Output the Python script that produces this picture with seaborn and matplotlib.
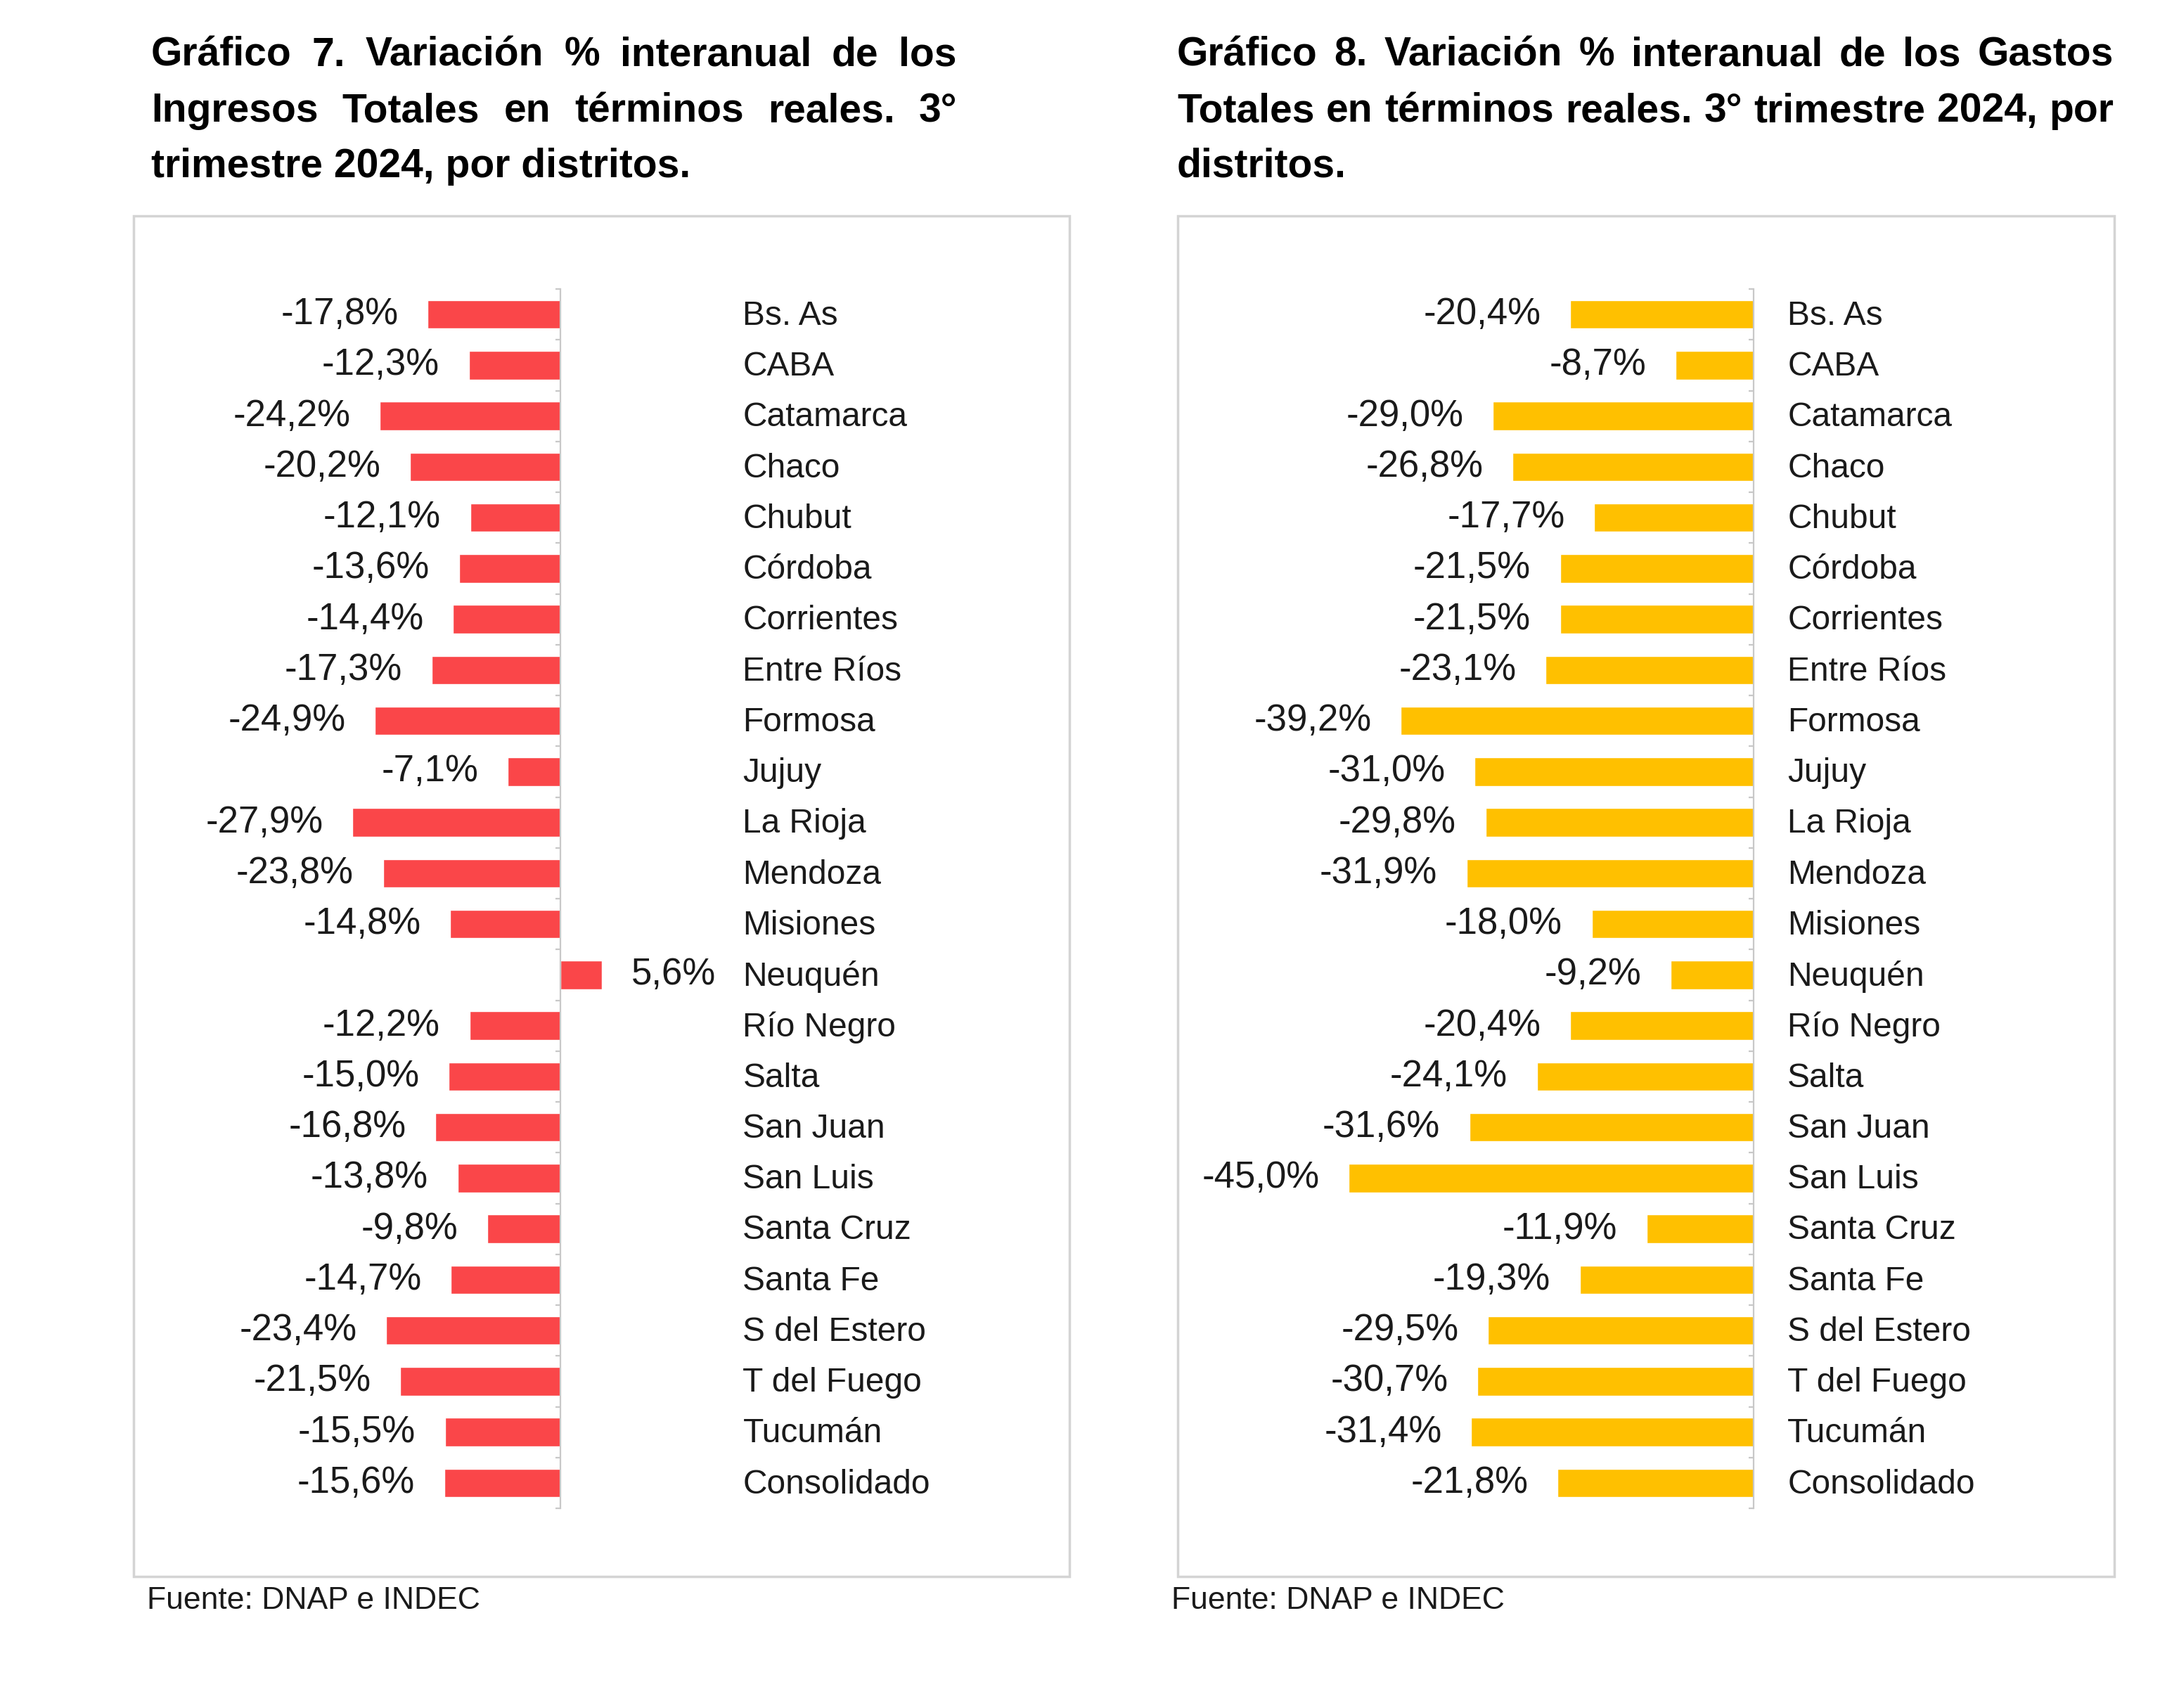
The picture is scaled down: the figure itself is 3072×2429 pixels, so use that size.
import numpy as np
import pandas as pd
import matplotlib
matplotlib.use("Agg")
import matplotlib.pyplot as plt
import matplotlib.transforms as mtransforms
from matplotlib.patches import Rectangle
import seaborn as sns

distritos = ["Bs. As", "CABA", "Catamarca", "Chaco", "Chubut", "Córdoba", "Corrientes",
             "Entre Ríos", "Formosa", "Jujuy", "La Rioja", "Mendoza", "Misiones", "Neuquén",
             "Río Negro", "Salta", "San Juan", "San Luis", "Santa Cruz", "Santa Fe",
             "S del Estero", "T del Fuego", "Tucumán", "Consolidado"]
ingresos = [-17.8, -12.3, -24.2, -20.2, -12.1, -13.6, -14.4, -17.3, -24.9, -7.1, -27.9, -23.8,
            -14.8, 5.6, -12.2, -15.0, -16.8, -13.8, -9.8, -14.7, -23.4, -21.5, -15.5, -15.6]
gastos = [-20.4, -8.7, -29.0, -26.8, -17.7, -21.5, -21.5, -23.1, -39.2, -31.0, -29.8, -31.9,
          -18.0, -9.2, -20.4, -24.1, -31.6, -45.0, -11.9, -19.3, -29.5, -30.7, -31.4, -21.8]

titulo_7 = ["Gráfico 7. Variación % interanual de los",
            "Ingresos Totales en términos reales. 3°",
            "trimestre 2024, por distritos."]
titulo_8 = ["Gráfico 8. Variación % interanual de los Gastos",
            "Totales en términos reales. 3° trimestre 2024, por",
            "distritos."]
fuente = "Fuente: DNAP e INDEC"

sns.set_theme(style="white")
plt.rcParams["font.family"] = ["Liberation Sans", "DejaVu Sans"]

W, H = 3072, 2429
fig = plt.figure(figsize=(W / 100, H / 100), dpi=100)
fig.patch.set_facecolor("white")

TXT = "#1a1a1a"
AXC = "#c8c8c8"
BOX_TOP, BOX_BOT = 307, 2242


def fx(px):
    return px / W


def fy(py):
    return 1 - py / H


def justified(lines, x0, x1, baselines, **kw):
    """ draws title lines, justified between x0 and x1 except the last one """
    renderer = fig.canvas.get_renderer()
    for i, (line, yb) in enumerate(zip(lines, baselines)):
        if i == len(lines) - 1:
            fig.text(fx(x0), fy(yb), line, va="baseline", ha="left", **kw)
            continue
        words = line.split()
        texts = [fig.text(0, fy(yb), w, va="baseline", ha="left", **kw) for w in words]
        widths = [t.get_window_extent(renderer).width for t in texts]
        gap = (x1 - x0 - sum(widths)) / (len(words) - 1)
        x = x0
        for t, w in zip(texts, widths):
            t.set_x(fx(x))
            x += w + gap


def panel(values, color, box_x0, box_x1, zero_px, px_per_unit):
    """ one bar chart with its frame """
    ax_top, ax_bot = 411, 2145
    ax = fig.add_axes([fx(box_x0), fy(ax_bot), fx(box_x1 - box_x0), (ax_bot - ax_top) / H])
    ax.patch.set_alpha(0)
    df = pd.DataFrame({"distrito": distritos, "valor": values})
    sns.barplot(data=df, x="valor", y="distrito", orient="h", color=color,
                saturation=1, width=0.56, ax=ax, errorbar=None)
    ax.set_xlim(-(zero_px - box_x0) / px_per_unit, (box_x1 - zero_px) / px_per_unit)
    ax.set_ylim(len(distritos) - 0.5, -0.5)
    ax.set_xlabel("")
    ax.set_ylabel("")
    ax.set_xticks([])
    for s in ["top", "right", "bottom"]:
        ax.spines[s].set_visible(False)
    ax.spines["left"].set_position(("data", 0))
    ax.spines["left"].set_color(AXC)
    ax.spines["left"].set_linewidth(1.6)
    ax.set_yticks(range(len(distritos)))
    ax.set_yticklabels([])
    ax.tick_params(axis="y", which="major", length=0)
    ax.set_yticks(np.arange(-0.5, len(distritos), 1), minor=True)
    ax.tick_params(axis="y", which="minor", left=True, length=5, width=1.6,
                   color=AXC, direction="out")

    labels = [f"{v:.1f}".replace(".", ",") + "%" for v in values]
    ax.bar_label(ax.containers[0], labels=labels, padding=30, fontsize=38, color=TXT)

    trans = mtransforms.blended_transform_factory(ax.transAxes, ax.transData)
    for i, d in enumerate(distritos):
        ax.text(0.651, i + 0.03, d, transform=trans, ha="left", va="center",
                fontsize=34.5, color=TXT)

    fig.patches.append(Rectangle((fx(box_x0), fy(BOX_BOT)), fx(box_x1 - box_x0),
                                 (BOX_BOT - BOX_TOP) / H,
                                 transform=fig.transFigure, fill=False,
                                 edgecolor="#d4d4d4", linewidth=2.5))
    return ax


panel(ingresos, "#FA4649", 190, 1521, 797, 10.6)
panel(gastos, "#FFC000", 1675, 3007, 2494, 12.8)

fig.canvas.draw()
justified(titulo_7, 215, 1361, [94, 173, 252], fontsize=41, fontweight="bold", color="black")
justified(titulo_8, 1674, 3006, [94, 173, 252], fontsize=41, fontweight="bold", color="black")

fig.text(fx(209), fy(2288), fuente, va="baseline", ha="left", fontsize=32, color=TXT)
fig.text(fx(1666), fy(2288), fuente, va="baseline", ha="left", fontsize=32, color=TXT)

fig.savefig("out.png", dpi=100, facecolor="white")
